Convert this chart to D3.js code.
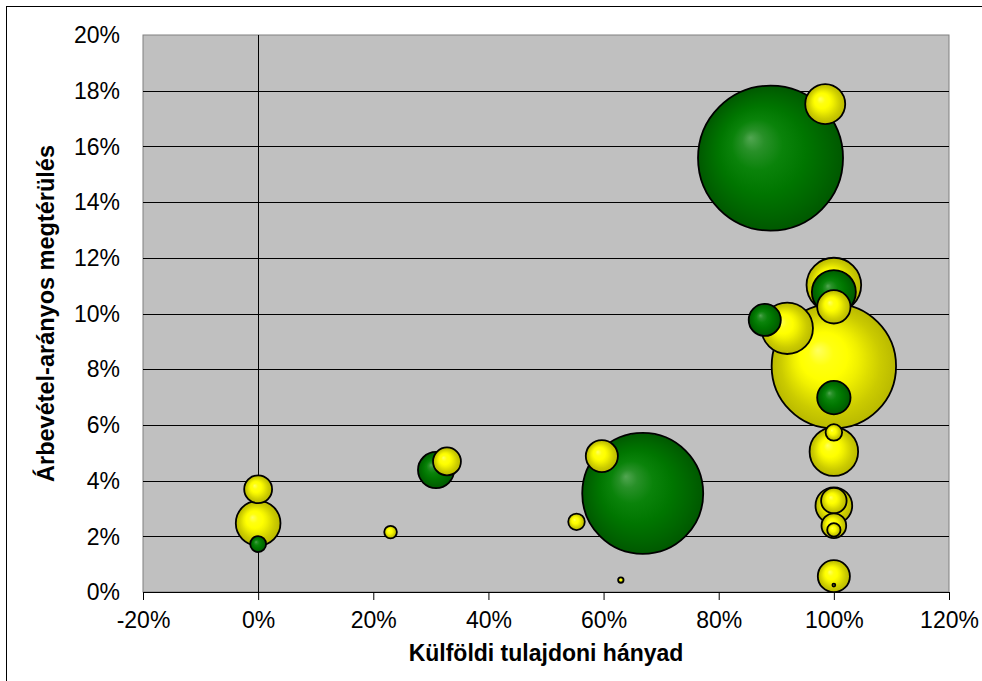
<!DOCTYPE html>
<html>
<head>
<meta charset="utf-8">
<script src="https://cdn.jsdelivr.net/npm/d3@7"></script>
<style>
  html, body { margin: 0; padding: 0; background: #ffffff; }
  svg { display: block; font-family: Arial, "Liberation Sans", sans-serif; }
</style>
</head>
<body>
<svg id="chart" width="982" height="681"></svg>
<script>
// Foreign ownership share (%) of each company
const foreignShare = [89.0, 98.5, 66.8, 59.7, 55.3, 63.0, 0, 0, 0, 23.0, 30.9, 32.8,
  100, 100, 100, 88.0, 91.9, 100, 100, 100, 100, 100, 100, 100, 100, 100, 100];
// Return on sales (%)
const returnOnSales = [15.58, 17.52, 3.54, 4.88, 2.52, 0.43, 3.69, 2.47, 1.72, 2.15, 4.38, 4.69,
  11.02, 10.77, 10.24, 9.77, 9.47, 8.11, 6.98, 5.73, 5.04, 3.10, 3.28, 2.38, 2.23, 0.57, 0.25];
// Bubble size (relative company size)
const bubbleSize = [100, 7.6, 69.6, 4.9, 1.3, 0.14, 3.7, 9.5, 1.2, 0.76, 6.2, 3.7,
  14.2, 9.2, 5.3, 4.9, 12.6, 73.6, 5.3, 1.3, 11.2, 6.4, 3.1, 2.9, 0.85, 4.9, 0.04];
// Group of each company: "g" = green, "y" = yellow
const group = ["g", "y", "g", "y", "y", "y", "y", "y", "g", "y", "g", "y",
  "y", "g", "y", "g", "y", "y", "g", "y", "y", "y", "y", "y", "y", "y", "y"];

const xTicks = [-20, 0, 20, 40, 60, 80, 100, 120];
const yTicks = [0, 2, 4, 6, 8, 10, 12, 14, 16, 18, 20];
const xTitle = "Külföldi tulajdoni hányad";
const yTitle = "Árbevétel-arányos megtérülés";

const svg = d3.select("#chart");
const plot = { left: 143, top: 35, right: 949, bottom: 592 };

const x = d3.scaleLinear().domain([-20, 120]).range([plot.left, plot.right]);
const y = d3.scaleLinear().domain([0, 20]).range([plot.bottom, plot.top]);
const r = d3.scaleSqrt().domain([0, d3.max(bubbleSize)]).range([0, 72.5]);

// Chart frame
svg.append("rect")
  .attr("x", 6.5).attr("y", 6.5).attr("width", 1000).attr("height", 1000)
  .attr("fill", "none").attr("stroke", "#000").attr("stroke-width", 1);

// Gradients
const defs = svg.append("defs");
const gradY = defs.append("radialGradient").attr("id", "gradY")
  .attr("cx", 0.5).attr("cy", 0.5).attr("r", 0.5).attr("fx", 0.37).attr("fy", 0.37);
[[0, "#ffff60"], [0.2, "#ffff10"], [0.38, "#ffff00"], [0.52, "#f0f000"],
 [0.66, "#dddd00"], [0.8, "#cbcb00"], [1, "#b9b900"]]
  .forEach(([o, c]) => gradY.append("stop").attr("offset", o).attr("stop-color", c));
const gradG = defs.append("radialGradient").attr("id", "gradG")
  .attr("cx", 0.5).attr("cy", 0.5).attr("r", 0.5).attr("fx", 0.36).attr("fy", 0.36);
[[0, "#52a652"], [0.15, "#289028"], [0.35, "#0a830a"], [0.6, "#007600"],
 [0.85, "#006400"], [1, "#005800"]]
  .forEach(([o, c]) => gradG.append("stop").attr("offset", o).attr("stop-color", c));

// Plot area background
svg.append("rect")
  .attr("x", plot.left).attr("y", plot.top)
  .attr("width", plot.right - plot.left).attr("height", plot.bottom - plot.top)
  .attr("fill", "#c0c0c0").attr("stroke", "#808080").attr("stroke-width", 1);

// Horizontal gridlines
svg.append("g").selectAll("line")
  .data(yTicks.filter(v => v > 0 && v < 20))
  .join("line")
  .attr("x1", plot.left).attr("x2", plot.right)
  .attr("y1", d => Math.round(y(d)) + 0.5).attr("y2", d => Math.round(y(d)) + 0.5)
  .attr("stroke", "#000").attr("stroke-width", 1);

// Vertical axis line crossing at 0 %
svg.append("line")
  .attr("x1", Math.round(x(0)) + 0.5).attr("x2", Math.round(x(0)) + 0.5)
  .attr("y1", plot.top).attr("y2", plot.bottom)
  .attr("stroke", "#000").attr("stroke-width", 1);

// Bottom axis
const xAxis = d3.axisBottom(x).tickValues(xTicks).tickSize(8).tickSizeOuter(0)
  .tickFormat(d => d + "%");
const gx = svg.append("g").attr("transform", `translate(0,${plot.bottom})`).call(xAxis);
gx.select(".domain").attr("stroke", "#000");
gx.selectAll(".tick line").attr("stroke", "#000");
gx.selectAll(".tick text").attr("font-size", 23).attr("fill", "#000")
  .attr("font-family", "Arial, 'Liberation Sans', sans-serif").attr("dy", "1.1em");

// Left tick labels
svg.append("g").selectAll("text")
  .data(yTicks)
  .join("text")
  .attr("x", 120).attr("y", d => y(d))
  .attr("dy", "0.36em")
  .attr("text-anchor", "end")
  .attr("font-size", 23).attr("fill", "#000")
  .text(d => d + "%");

// Bubbles, largest first so smaller ones stay visible
const points = bubbleSize.map((s, i) => ({
  x: foreignShare[i], y: returnOnSales[i], s, g: group[i]
})).sort((a, b) => b.s - a.s);

svg.append("g").selectAll("circle")
  .data(points)
  .join("circle")
  .attr("cx", d => x(d.x)).attr("cy", d => y(d.y)).attr("r", d => r(d.s))
  .attr("fill", d => d.g === "g" ? "url(#gradG)" : "url(#gradY)")
  .attr("stroke", "#000").attr("stroke-width", 1.8);

// Axis titles
svg.append("text")
  .attr("x", (plot.left + plot.right) / 2).attr("y", 661)
  .attr("text-anchor", "middle").attr("font-size", 23).attr("font-weight", "bold")
  .text(xTitle);

svg.append("text")
  .attr("transform", `translate(54,${(plot.top + plot.bottom) / 2}) rotate(-90)`)
  .attr("text-anchor", "middle").attr("font-size", 23.5).attr("font-weight", "bold")
  .text(yTitle);
</script>
</body>
</html>
